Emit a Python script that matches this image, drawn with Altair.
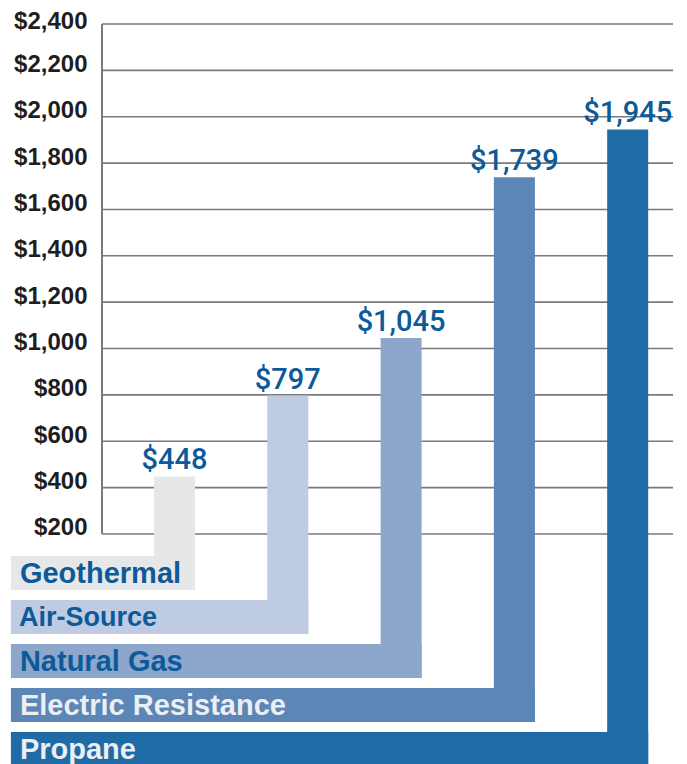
import altair as alt
import pandas as pd

# ---- data ----
categories = ["Geothermal", "Air-Source", "Natural Gas", "Electric Resistance", "Propane"]
values = [448, 797, 1045, 1739, 1945]
tick_values = [200, 400, 600, 800, 1000, 1200, 1400, 1600, 1800, 2000, 2200, 2400]
bar_colors = ["#e6e7e9", "#bfcbe2", "#8ca6cc", "#5b86b6", "#1f6ba6"]
label_colors = ["#0d5a98", "#0d5a98", "#0d5a98", "#eceef1", "#eceef1"]

# ---- layout constants (dollar / index units of the scales) ----
ROW_TOP0 = 105      # top of first label band
ROW_STEP = 189.8    # distance between label bands
ROW_H = 146.7       # height of a label band
HALF_W = 0.181      # half width of a vertical bar (index units)
X_LEFT = -1.444     # left end of the label bands

rects = []
labels = []
for i, (c, v) in enumerate(zip(categories, values)):
    top = ROW_TOP0 - ROW_STEP * i
    bot = top - ROW_H
    rects.append(dict(cat=c, x=i - HALF_W, x2=i + HALF_W, y=v, y2=bot))
    rects.append(dict(cat=c, x=X_LEFT, x2=i + HALF_W, y=top, y2=bot))
    labels.append(dict(cat=c, idx=i, value=v, vlabel="$" + format(v, ","),
                       ymid=(top + bot) / 2, xl=X_LEFT))

rdf = pd.DataFrame(rects)
ldf = pd.DataFrame(labels)

xs = alt.Scale(domain=[-0.64, 4.40], nice=False, zero=False)
ys = alt.Scale(domain=[-758, 2400], nice=False, zero=False)
color = alt.Color("cat:N", scale=alt.Scale(domain=categories, range=bar_colors), legend=None)

grid = alt.Chart(pd.DataFrame({"v": tick_values})).mark_rule(
    color="#7a7a7a", strokeWidth=1.6
).encode(
    y=alt.Y("v:Q", scale=ys, axis=alt.Axis(
        values=tick_values, grid=False, domain=False, ticks=False,
        labelExpr="'$' + format(datum.value, ',')",
        labelFont="Liberation Sans", labelFontWeight="bold", labelFontSize=24,
        labelColor="#1e1e1e", labelPadding=15, labelBaseline="alphabetic",
        labelOffset={"condition": {"test": "datum.value == 2400", "value": 4}, "value": 1},
        title=None)),
    x=alt.value(0), x2=alt.value(571),
)

vaxis = alt.Chart(pd.DataFrame({"a": [200], "b": [2400]})).mark_rule(
    color="#7a7a7a", strokeWidth=2
).encode(x=alt.value(0), y=alt.Y("a:Q", scale=ys), y2="b:Q")

bars = alt.Chart(rdf).mark_rect(clip=False).encode(
    x=alt.X("x:Q", scale=xs, axis=None), x2="x2:Q",
    y=alt.Y("y:Q", scale=ys), y2="y2:Q",
    color=color,
)

value_text = alt.Chart(ldf).mark_text(
    font="Roboto", fontSize=29, fontWeight=500, color="#0d5a98",
    align="center", baseline="alphabetic", dy=-7
).encode(x=alt.X("idx:Q", scale=xs), y=alt.Y("value:Q", scale=ys), text="vlabel:N")

band_text = alt.Chart(ldf).transform_filter(
    alt.datum.cat != "Air-Source"
).mark_text(
    font="Liberation Sans", fontSize=29, fontWeight="bold",
    align="left", baseline="middle", dx=9, dy=1, clip=False
).encode(
    x=alt.X("xl:Q", scale=xs), y=alt.Y("ymid:Q", scale=ys), text="cat:N",
    color=alt.Color("cat:N", scale=alt.Scale(domain=categories, range=label_colors), legend=None),
)

band_text_narrow = alt.Chart(ldf).transform_filter(
    alt.datum.cat == "Air-Source"
).mark_text(
    font="Liberation Sans", fontSize=27, fontWeight="bold", color="#0d5a98",
    align="left", baseline="middle", dx=8, dy=1, clip=False
).encode(x=alt.X("xl:Q", scale=xs), y=alt.Y("ymid:Q", scale=ys), text="cat:N")

chart = alt.layer(grid, vaxis, bars, value_text, band_text, band_text_narrow).resolve_scale(
    color="independent"
).properties(
    width=571, height=732,
    autosize=alt.AutoSizeParams(type="none"),
    padding={"left": 94, "top": 16, "right": 6, "bottom": 8},
).configure_view(stroke=None)

chart.save("out.html", embed_options={"renderer": "svg", "actions": False})
